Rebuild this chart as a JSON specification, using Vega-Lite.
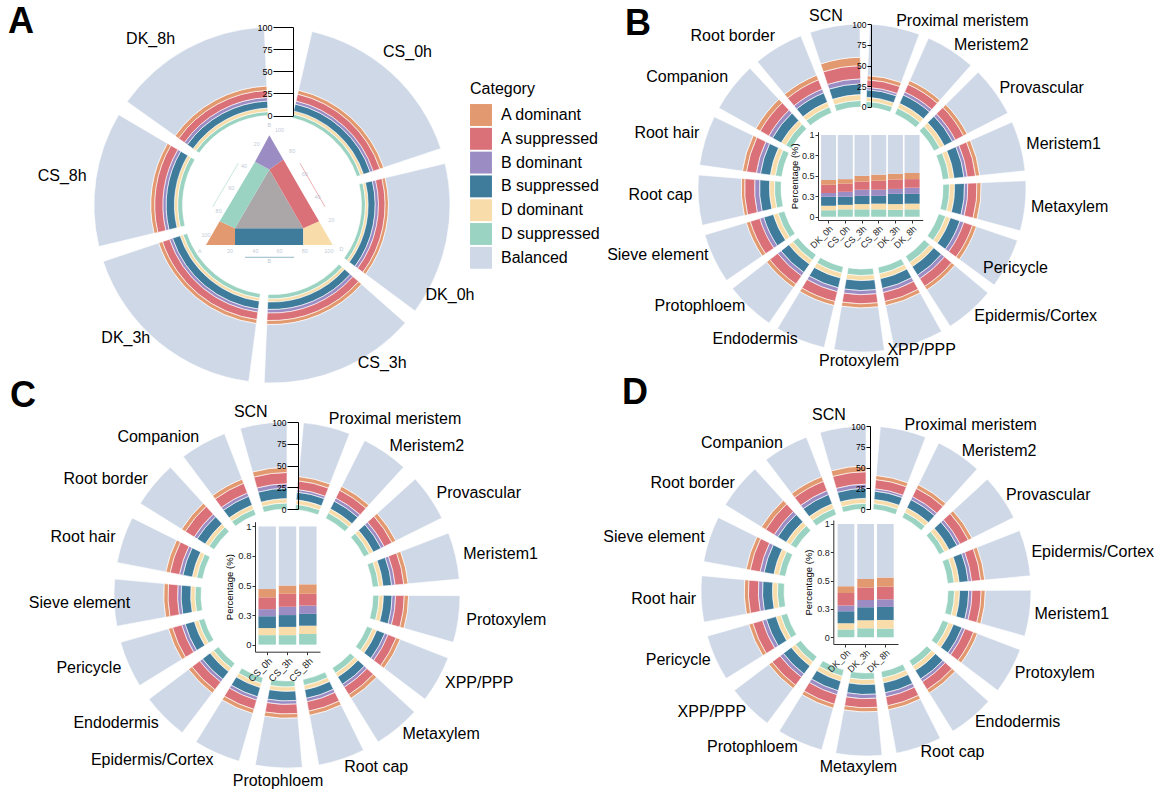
{
"$schema": "https://vega.github.io/schema/vega-lite/v6.json",
"padding": 0,
"background": "white",
"columns": 2,
"spacing": {"row": 0, "column": 4},
"bounds": "flush",
"align": "each",
"config": {
  "font": "Liberation Sans",
  "view": {"stroke": null},
  "axis": {"grid": false, "labelOverlap": false, "zindex": 1},
  "title": {"fontSize": 36, "fontWeight": "bold", "anchor": "start", "frame": "group", "color": "black"}
},
"resolve": {"scale": {"color": "independent", "fill": "independent", "theta": "independent", "radius": "independent"}},
"datasets": {
"ticks": [{"tick":0},{"tick":25},{"tick":50},{"tick":75},{"tick":100}],
"ringA": [
{"c":"CS_0h","w":63.5,"k":"D suppressed","v":4.5},{"c":"CS_0h","w":63.5,"k":"D dominant","v":3.5},{"c":"CS_0h","w":63.5,"k":"B suppressed","v":8},{"c":"CS_0h","w":63.5,"k":"B dominant","v":3.5},{"c":"CS_0h","w":63.5,"k":"A suppressed","v":8},{"c":"CS_0h","w":63.5,"k":"A dominant","v":4.5},{"c":"CS_0h","w":63.5,"k":"Balanced","v":68},
{"c":"DK_0h","w":55,"k":"D suppressed","v":4.5},{"c":"DK_0h","w":55,"k":"D dominant","v":3},{"c":"DK_0h","w":55,"k":"B suppressed","v":8},{"c":"DK_0h","w":55,"k":"B dominant","v":3.7},{"c":"DK_0h","w":55,"k":"A suppressed","v":7.5},{"c":"DK_0h","w":55,"k":"A dominant","v":3.8},{"c":"DK_0h","w":55,"k":"Balanced","v":69.5},
{"c":"CS_3h","w":56,"k":"D suppressed","v":5},{"c":"CS_3h","w":56,"k":"D dominant","v":3.5},{"c":"CS_3h","w":56,"k":"B suppressed","v":8.5},{"c":"CS_3h","w":56,"k":"B dominant","v":4},{"c":"CS_3h","w":56,"k":"A suppressed","v":8.5},{"c":"CS_3h","w":56,"k":"A dominant","v":4.5},{"c":"CS_3h","w":56,"k":"Balanced","v":66},
{"c":"DK_3h","w":69,"k":"D suppressed","v":5},{"c":"DK_3h","w":69,"k":"D dominant","v":3.5},{"c":"DK_3h","w":69,"k":"B suppressed","v":9},{"c":"DK_3h","w":69,"k":"B dominant","v":3.5},{"c":"DK_3h","w":69,"k":"A suppressed","v":8.5},{"c":"DK_3h","w":69,"k":"A dominant","v":4.5},{"c":"DK_3h","w":69,"k":"Balanced","v":66},
{"c":"CS_8h","w":49,"k":"D suppressed","v":5.5},{"c":"CS_8h","w":49,"k":"D dominant","v":3.7},{"c":"CS_8h","w":49,"k":"B suppressed","v":9.4},{"c":"CS_8h","w":49,"k":"B dominant","v":3.7},{"c":"CS_8h","w":49,"k":"A suppressed","v":9.2},{"c":"CS_8h","w":49,"k":"A dominant","v":4.5},{"c":"CS_8h","w":49,"k":"Balanced","v":64},
{"c":"DK_8h","w":57,"k":"D suppressed","v":4.5},{"c":"DK_8h","w":57,"k":"D dominant","v":4},{"c":"DK_8h","w":57,"k":"B suppressed","v":8},{"c":"DK_8h","w":57,"k":"B dominant","v":4},{"c":"DK_8h","w":57,"k":"A suppressed","v":8},{"c":"DK_8h","w":57,"k":"A dominant","v":5},{"c":"DK_8h","w":57,"k":"Balanced","v":66.5}
],
"tern": [
{"g":"A dominant","x":0,"y":0,"y2":0},{"g":"A dominant","x":0.108,"y":0.187,"y2":0},{"g":"A dominant","x":0.229,"y":0.132,"y2":0},
{"g":"B suppressed","x":0.229,"y":0.132,"y2":0},{"g":"B suppressed","x":0.768,"y":0.132,"y2":0},
{"g":"D dominant","x":0.768,"y":0.132,"y2":0},{"g":"D dominant","x":0.892,"y":0.187,"y2":0},{"g":"D dominant","x":1,"y":0,"y2":0},
{"g":"Balanced","x":0.229,"y":0.132,"y2":0.132},{"g":"Balanced","x":0.5,"y":0.597,"y2":0.132},{"g":"Balanced","x":0.768,"y":0.132,"y2":0.132},
{"g":"D suppressed","x":0.108,"y":0.187,"y2":0.187},{"g":"D suppressed","x":0.229,"y":0.391,"y2":0.132},{"g":"D suppressed","x":0.387,"y":0.657,"y2":0.403},{"g":"D suppressed","x":0.5,"y":0.597,"y2":0.597},
{"g":"A suppressed","x":0.5,"y":0.597,"y2":0.597},{"g":"A suppressed","x":0.61,"y":0.675,"y2":0.406},{"g":"A suppressed","x":0.768,"y":0.4,"y2":0.132},{"g":"A suppressed","x":0.892,"y":0.187,"y2":0.187},
{"g":"B dominant","x":0.387,"y":0.657,"y2":0.657},{"g":"B dominant","x":0.5,"y":0.866,"y2":0.597},{"g":"B dominant","x":0.61,"y":0.675,"y2":0.675}
],
"ternArrows": [
{"g":"D suppressed","x":0.255,"y":0.645,"x2":0.053,"y2":0.302},
{"g":"A suppressed","x":0.742,"y":0.645,"x2":0.939,"y2":0.302},
{"g":"B suppressed","x":0.308,"y":-0.097,"x2":0.695,"y2":-0.097}
],
"ternText": [
{"t":"B","x":0.5,"y":0.95},
{"t":"A","x":-0.05,"y":-0.05},
{"t":"D","x":1.07,"y":-0.03},
{"t":"B","x":0.5,"y":-0.13},
{"t":"20","x":0.19,"y":-0.05},{"t":"40","x":0.39,"y":-0.05},{"t":"60","x":0.58,"y":-0.05},{"t":"80","x":0.78,"y":-0.05},{"t":"100","x":0.97,"y":-0.05},
{"t":"20","x":0.99,"y":0.2},{"t":"40","x":0.88,"y":0.38},{"t":"60","x":0.78,"y":0.56},{"t":"80","x":0.68,"y":0.74},{"t":"100","x":0.58,"y":0.91},
{"t":"20","x":0.4,"y":0.8},{"t":"40","x":0.3,"y":0.62},{"t":"60","x":0.2,"y":0.45},{"t":"80","x":0.1,"y":0.27},{"t":"100","x":0.0,"y":0.08}
],
"ringB": [
{"c":"Proximal meristem","k":"D suppressed","v":7},{"c":"Proximal meristem","k":"D dominant","v":5},{"c":"Proximal meristem","k":"B suppressed","v":9},{"c":"Proximal meristem","k":"B dominant","v":3},{"c":"Proximal meristem","k":"A suppressed","v":9},{"c":"Proximal meristem","k":"A dominant","v":5},{"c":"Proximal meristem","k":"Balanced","v":62},
{"c":"Meristem2","k":"D suppressed","v":8},{"c":"Meristem2","k":"D dominant","v":6},{"c":"Meristem2","k":"B suppressed","v":11},{"c":"Meristem2","k":"B dominant","v":4},{"c":"Meristem2","k":"A suppressed","v":10},{"c":"Meristem2","k":"A dominant","v":5},{"c":"Meristem2","k":"Balanced","v":56},
{"c":"Provascular","k":"D suppressed","v":8},{"c":"Provascular","k":"D dominant","v":6},{"c":"Provascular","k":"B suppressed","v":11},{"c":"Provascular","k":"B dominant","v":4},{"c":"Provascular","k":"A suppressed","v":11},{"c":"Provascular","k":"A dominant","v":5},{"c":"Provascular","k":"Balanced","v":55},
{"c":"Meristem1","k":"D suppressed","v":8},{"c":"Meristem1","k":"D dominant","v":6},{"c":"Meristem1","k":"B suppressed","v":12},{"c":"Meristem1","k":"B dominant","v":4},{"c":"Meristem1","k":"A suppressed","v":10},{"c":"Meristem1","k":"A dominant","v":5},{"c":"Meristem1","k":"Balanced","v":55},
{"c":"Metaxylem","k":"D suppressed","v":8},{"c":"Metaxylem","k":"D dominant","v":6},{"c":"Metaxylem","k":"B suppressed","v":12},{"c":"Metaxylem","k":"B dominant","v":4},{"c":"Metaxylem","k":"A suppressed","v":11},{"c":"Metaxylem","k":"A dominant","v":5},{"c":"Metaxylem","k":"Balanced","v":54},
{"c":"Pericycle","k":"D suppressed","v":9},{"c":"Pericycle","k":"D dominant","v":6},{"c":"Pericycle","k":"B suppressed","v":12},{"c":"Pericycle","k":"B dominant","v":5},{"c":"Pericycle","k":"A suppressed","v":11},{"c":"Pericycle","k":"A dominant","v":5},{"c":"Pericycle","k":"Balanced","v":52},
{"c":"Epidermis/Cortex","k":"D suppressed","v":9},{"c":"Epidermis/Cortex","k":"D dominant","v":6},{"c":"Epidermis/Cortex","k":"B suppressed","v":12},{"c":"Epidermis/Cortex","k":"B dominant","v":5},{"c":"Epidermis/Cortex","k":"A suppressed","v":11},{"c":"Epidermis/Cortex","k":"A dominant","v":5},{"c":"Epidermis/Cortex","k":"Balanced","v":52},
{"c":"XPP/PPP","k":"D suppressed","v":8},{"c":"XPP/PPP","k":"D dominant","v":6},{"c":"XPP/PPP","k":"B suppressed","v":12},{"c":"XPP/PPP","k":"B dominant","v":5},{"c":"XPP/PPP","k":"A suppressed","v":11},{"c":"XPP/PPP","k":"A dominant","v":5},{"c":"XPP/PPP","k":"Balanced","v":53},
{"c":"Protoxylem","k":"D suppressed","v":8},{"c":"Protoxylem","k":"D dominant","v":6},{"c":"Protoxylem","k":"B suppressed","v":12},{"c":"Protoxylem","k":"B dominant","v":5},{"c":"Protoxylem","k":"A suppressed","v":11},{"c":"Protoxylem","k":"A dominant","v":5},{"c":"Protoxylem","k":"Balanced","v":53},
{"c":"Endodermis","k":"D suppressed","v":8},{"c":"Endodermis","k":"D dominant","v":6},{"c":"Endodermis","k":"B suppressed","v":12},{"c":"Endodermis","k":"B dominant","v":5},{"c":"Endodermis","k":"A suppressed","v":12},{"c":"Endodermis","k":"A dominant","v":5},{"c":"Endodermis","k":"Balanced","v":52},
{"c":"Protophloem","k":"D suppressed","v":8},{"c":"Protophloem","k":"D dominant","v":6},{"c":"Protophloem","k":"B suppressed","v":12},{"c":"Protophloem","k":"B dominant","v":5},{"c":"Protophloem","k":"A suppressed","v":12},{"c":"Protophloem","k":"A dominant","v":5},{"c":"Protophloem","k":"Balanced","v":52},
{"c":"Sieve element","k":"D suppressed","v":8},{"c":"Sieve element","k":"D dominant","v":6},{"c":"Sieve element","k":"B suppressed","v":12},{"c":"Sieve element","k":"B dominant","v":5},{"c":"Sieve element","k":"A suppressed","v":12},{"c":"Sieve element","k":"A dominant","v":5},{"c":"Sieve element","k":"Balanced","v":52},
{"c":"Root cap","k":"D suppressed","v":8},{"c":"Root cap","k":"D dominant","v":6},{"c":"Root cap","k":"B suppressed","v":12},{"c":"Root cap","k":"B dominant","v":6},{"c":"Root cap","k":"A suppressed","v":12},{"c":"Root cap","k":"A dominant","v":4},{"c":"Root cap","k":"Balanced","v":52},
{"c":"Root hair","k":"D suppressed","v":8},{"c":"Root hair","k":"D dominant","v":6},{"c":"Root hair","k":"B suppressed","v":12},{"c":"Root hair","k":"B dominant","v":5},{"c":"Root hair","k":"A suppressed","v":12},{"c":"Root hair","k":"A dominant","v":5},{"c":"Root hair","k":"Balanced","v":52},
{"c":"Companion","k":"D suppressed","v":8},{"c":"Companion","k":"D dominant","v":6},{"c":"Companion","k":"B suppressed","v":12},{"c":"Companion","k":"B dominant","v":5},{"c":"Companion","k":"A suppressed","v":12},{"c":"Companion","k":"A dominant","v":6},{"c":"Companion","k":"Balanced","v":51},
{"c":"Root border","k":"D suppressed","v":8},{"c":"Root border","k":"D dominant","v":6},{"c":"Root border","k":"B suppressed","v":12},{"c":"Root border","k":"B dominant","v":5},{"c":"Root border","k":"A suppressed","v":12},{"c":"Root border","k":"A dominant","v":6},{"c":"Root border","k":"Balanced","v":51},
{"c":"SCN","k":"D suppressed","v":8},{"c":"SCN","k":"D dominant","v":7},{"c":"SCN","k":"B suppressed","v":13},{"c":"SCN","k":"B dominant","v":6},{"c":"SCN","k":"A suppressed","v":16},{"c":"SCN","k":"A dominant","v":10},{"c":"SCN","k":"Balanced","v":40}
],
"ringC": [
{"c":"Proximal meristem","k":"D suppressed","v":6},{"c":"Proximal meristem","k":"D dominant","v":5},{"c":"Proximal meristem","k":"B suppressed","v":9},{"c":"Proximal meristem","k":"B dominant","v":3},{"c":"Proximal meristem","k":"A suppressed","v":10},{"c":"Proximal meristem","k":"A dominant","v":5},{"c":"Proximal meristem","k":"Balanced","v":62},
{"c":"Meristem2","k":"D suppressed","v":7},{"c":"Meristem2","k":"D dominant","v":5},{"c":"Meristem2","k":"B suppressed","v":10},{"c":"Meristem2","k":"B dominant","v":4},{"c":"Meristem2","k":"A suppressed","v":10},{"c":"Meristem2","k":"A dominant","v":5},{"c":"Meristem2","k":"Balanced","v":59},
{"c":"Provascular","k":"D suppressed","v":7},{"c":"Provascular","k":"D dominant","v":5},{"c":"Provascular","k":"B suppressed","v":10},{"c":"Provascular","k":"B dominant","v":4},{"c":"Provascular","k":"A suppressed","v":10},{"c":"Provascular","k":"A dominant","v":5},{"c":"Provascular","k":"Balanced","v":59},
{"c":"Meristem1","k":"D suppressed","v":7},{"c":"Meristem1","k":"D dominant","v":5},{"c":"Meristem1","k":"B suppressed","v":10},{"c":"Meristem1","k":"B dominant","v":4},{"c":"Meristem1","k":"A suppressed","v":10},{"c":"Meristem1","k":"A dominant","v":5},{"c":"Meristem1","k":"Balanced","v":59},
{"c":"Protoxylem","k":"D suppressed","v":7},{"c":"Protoxylem","k":"D dominant","v":5},{"c":"Protoxylem","k":"B suppressed","v":10},{"c":"Protoxylem","k":"B dominant","v":4},{"c":"Protoxylem","k":"A suppressed","v":10},{"c":"Protoxylem","k":"A dominant","v":5},{"c":"Protoxylem","k":"Balanced","v":59},
{"c":"XPP/PPP","k":"D suppressed","v":7},{"c":"XPP/PPP","k":"D dominant","v":5},{"c":"XPP/PPP","k":"B suppressed","v":10},{"c":"XPP/PPP","k":"B dominant","v":4},{"c":"XPP/PPP","k":"A suppressed","v":10},{"c":"XPP/PPP","k":"A dominant","v":5},{"c":"XPP/PPP","k":"Balanced","v":59},
{"c":"Metaxylem","k":"D suppressed","v":7},{"c":"Metaxylem","k":"D dominant","v":5},{"c":"Metaxylem","k":"B suppressed","v":10},{"c":"Metaxylem","k":"B dominant","v":4},{"c":"Metaxylem","k":"A suppressed","v":10},{"c":"Metaxylem","k":"A dominant","v":5},{"c":"Metaxylem","k":"Balanced","v":59},
{"c":"Root cap","k":"D suppressed","v":7},{"c":"Root cap","k":"D dominant","v":5},{"c":"Root cap","k":"B suppressed","v":10},{"c":"Root cap","k":"B dominant","v":4},{"c":"Root cap","k":"A suppressed","v":11},{"c":"Root cap","k":"A dominant","v":5},{"c":"Root cap","k":"Balanced","v":58},
{"c":"Protophloem","k":"D suppressed","v":7},{"c":"Protophloem","k":"D dominant","v":5},{"c":"Protophloem","k":"B suppressed","v":11},{"c":"Protophloem","k":"B dominant","v":4},{"c":"Protophloem","k":"A suppressed","v":11},{"c":"Protophloem","k":"A dominant","v":5},{"c":"Protophloem","k":"Balanced","v":57},
{"c":"Epidermis/Cortex","k":"D suppressed","v":7},{"c":"Epidermis/Cortex","k":"D dominant","v":5},{"c":"Epidermis/Cortex","k":"B suppressed","v":11},{"c":"Epidermis/Cortex","k":"B dominant","v":4},{"c":"Epidermis/Cortex","k":"A suppressed","v":11},{"c":"Epidermis/Cortex","k":"A dominant","v":5},{"c":"Epidermis/Cortex","k":"Balanced","v":57},
{"c":"Endodermis","k":"D suppressed","v":7},{"c":"Endodermis","k":"D dominant","v":5},{"c":"Endodermis","k":"B suppressed","v":11},{"c":"Endodermis","k":"B dominant","v":4},{"c":"Endodermis","k":"A suppressed","v":11},{"c":"Endodermis","k":"A dominant","v":5},{"c":"Endodermis","k":"Balanced","v":57},
{"c":"Pericycle","k":"D suppressed","v":7},{"c":"Pericycle","k":"D dominant","v":5},{"c":"Pericycle","k":"B suppressed","v":11},{"c":"Pericycle","k":"B dominant","v":4},{"c":"Pericycle","k":"A suppressed","v":11},{"c":"Pericycle","k":"A dominant","v":5},{"c":"Pericycle","k":"Balanced","v":57},
{"c":"Sieve element","k":"D suppressed","v":7},{"c":"Sieve element","k":"D dominant","v":5},{"c":"Sieve element","k":"B suppressed","v":11},{"c":"Sieve element","k":"B dominant","v":4},{"c":"Sieve element","k":"A suppressed","v":11},{"c":"Sieve element","k":"A dominant","v":5},{"c":"Sieve element","k":"Balanced","v":57},
{"c":"Root hair","k":"D suppressed","v":7},{"c":"Root hair","k":"D dominant","v":5},{"c":"Root hair","k":"B suppressed","v":11},{"c":"Root hair","k":"B dominant","v":4},{"c":"Root hair","k":"A suppressed","v":11},{"c":"Root hair","k":"A dominant","v":5},{"c":"Root hair","k":"Balanced","v":57},
{"c":"Root border","k":"D suppressed","v":7},{"c":"Root border","k":"D dominant","v":5},{"c":"Root border","k":"B suppressed","v":11},{"c":"Root border","k":"B dominant","v":4},{"c":"Root border","k":"A suppressed","v":12},{"c":"Root border","k":"A dominant","v":5},{"c":"Root border","k":"Balanced","v":56},
{"c":"Companion","k":"D suppressed","v":7},{"c":"Companion","k":"D dominant","v":5},{"c":"Companion","k":"B suppressed","v":11},{"c":"Companion","k":"B dominant","v":4},{"c":"Companion","k":"A suppressed","v":12},{"c":"Companion","k":"A dominant","v":5},{"c":"Companion","k":"Balanced","v":56},
{"c":"SCN","k":"D suppressed","v":7},{"c":"SCN","k":"D dominant","v":5},{"c":"SCN","k":"B suppressed","v":12},{"c":"SCN","k":"B dominant","v":5},{"c":"SCN","k":"A suppressed","v":13},{"c":"SCN","k":"A dominant","v":6},{"c":"SCN","k":"Balanced","v":52}
],
"ringD": [
{"c":"Proximal meristem","k":"D suppressed","v":7},{"c":"Proximal meristem","k":"D dominant","v":5},{"c":"Proximal meristem","k":"B suppressed","v":10},{"c":"Proximal meristem","k":"B dominant","v":3},{"c":"Proximal meristem","k":"A suppressed","v":11},{"c":"Proximal meristem","k":"A dominant","v":5},{"c":"Proximal meristem","k":"Balanced","v":59},
{"c":"Meristem2","k":"D suppressed","v":7},{"c":"Meristem2","k":"D dominant","v":6},{"c":"Meristem2","k":"B suppressed","v":11},{"c":"Meristem2","k":"B dominant","v":4},{"c":"Meristem2","k":"A suppressed","v":11},{"c":"Meristem2","k":"A dominant","v":5},{"c":"Meristem2","k":"Balanced","v":56},
{"c":"Provascular","k":"D suppressed","v":7},{"c":"Provascular","k":"D dominant","v":6},{"c":"Provascular","k":"B suppressed","v":11},{"c":"Provascular","k":"B dominant","v":4},{"c":"Provascular","k":"A suppressed","v":11},{"c":"Provascular","k":"A dominant","v":5},{"c":"Provascular","k":"Balanced","v":56},
{"c":"Epidermis/Cortex","k":"D suppressed","v":8},{"c":"Epidermis/Cortex","k":"D dominant","v":6},{"c":"Epidermis/Cortex","k":"B suppressed","v":11},{"c":"Epidermis/Cortex","k":"B dominant","v":4},{"c":"Epidermis/Cortex","k":"A suppressed","v":11},{"c":"Epidermis/Cortex","k":"A dominant","v":5},{"c":"Epidermis/Cortex","k":"Balanced","v":55},
{"c":"Meristem1","k":"D suppressed","v":8},{"c":"Meristem1","k":"D dominant","v":6},{"c":"Meristem1","k":"B suppressed","v":11},{"c":"Meristem1","k":"B dominant","v":4},{"c":"Meristem1","k":"A suppressed","v":11},{"c":"Meristem1","k":"A dominant","v":5},{"c":"Meristem1","k":"Balanced","v":55},
{"c":"Protoxylem","k":"D suppressed","v":8},{"c":"Protoxylem","k":"D dominant","v":6},{"c":"Protoxylem","k":"B suppressed","v":11},{"c":"Protoxylem","k":"B dominant","v":4},{"c":"Protoxylem","k":"A suppressed","v":11},{"c":"Protoxylem","k":"A dominant","v":5},{"c":"Protoxylem","k":"Balanced","v":55},
{"c":"Endodermis","k":"D suppressed","v":8},{"c":"Endodermis","k":"D dominant","v":6},{"c":"Endodermis","k":"B suppressed","v":12},{"c":"Endodermis","k":"B dominant","v":4},{"c":"Endodermis","k":"A suppressed","v":11},{"c":"Endodermis","k":"A dominant","v":5},{"c":"Endodermis","k":"Balanced","v":54},
{"c":"Root cap","k":"D suppressed","v":8},{"c":"Root cap","k":"D dominant","v":6},{"c":"Root cap","k":"B suppressed","v":12},{"c":"Root cap","k":"B dominant","v":5},{"c":"Root cap","k":"A suppressed","v":11},{"c":"Root cap","k":"A dominant","v":5},{"c":"Root cap","k":"Balanced","v":53},
{"c":"Metaxylem","k":"D suppressed","v":8},{"c":"Metaxylem","k":"D dominant","v":6},{"c":"Metaxylem","k":"B suppressed","v":12},{"c":"Metaxylem","k":"B dominant","v":5},{"c":"Metaxylem","k":"A suppressed","v":11},{"c":"Metaxylem","k":"A dominant","v":5},{"c":"Metaxylem","k":"Balanced","v":53},
{"c":"Protophloem","k":"D suppressed","v":8},{"c":"Protophloem","k":"D dominant","v":6},{"c":"Protophloem","k":"B suppressed","v":12},{"c":"Protophloem","k":"B dominant","v":5},{"c":"Protophloem","k":"A suppressed","v":12},{"c":"Protophloem","k":"A dominant","v":5},{"c":"Protophloem","k":"Balanced","v":52},
{"c":"XPP/PPP","k":"D suppressed","v":8},{"c":"XPP/PPP","k":"D dominant","v":6},{"c":"XPP/PPP","k":"B suppressed","v":12},{"c":"XPP/PPP","k":"B dominant","v":5},{"c":"XPP/PPP","k":"A suppressed","v":12},{"c":"XPP/PPP","k":"A dominant","v":5},{"c":"XPP/PPP","k":"Balanced","v":52},
{"c":"Pericycle","k":"D suppressed","v":8},{"c":"Pericycle","k":"D dominant","v":6},{"c":"Pericycle","k":"B suppressed","v":12},{"c":"Pericycle","k":"B dominant","v":5},{"c":"Pericycle","k":"A suppressed","v":12},{"c":"Pericycle","k":"A dominant","v":5},{"c":"Pericycle","k":"Balanced","v":52},
{"c":"Root hair","k":"D suppressed","v":8},{"c":"Root hair","k":"D dominant","v":6},{"c":"Root hair","k":"B suppressed","v":12},{"c":"Root hair","k":"B dominant","v":5},{"c":"Root hair","k":"A suppressed","v":12},{"c":"Root hair","k":"A dominant","v":5},{"c":"Root hair","k":"Balanced","v":52},
{"c":"Sieve element","k":"D suppressed","v":8},{"c":"Sieve element","k":"D dominant","v":6},{"c":"Sieve element","k":"B suppressed","v":12},{"c":"Sieve element","k":"B dominant","v":5},{"c":"Sieve element","k":"A suppressed","v":12},{"c":"Sieve element","k":"A dominant","v":5},{"c":"Sieve element","k":"Balanced","v":52},
{"c":"Root border","k":"D suppressed","v":8},{"c":"Root border","k":"D dominant","v":6},{"c":"Root border","k":"B suppressed","v":12},{"c":"Root border","k":"B dominant","v":5},{"c":"Root border","k":"A suppressed","v":12},{"c":"Root border","k":"A dominant","v":6},{"c":"Root border","k":"Balanced","v":51},
{"c":"Companion","k":"D suppressed","v":8},{"c":"Companion","k":"D dominant","v":6},{"c":"Companion","k":"B suppressed","v":12},{"c":"Companion","k":"B dominant","v":5},{"c":"Companion","k":"A suppressed","v":12},{"c":"Companion","k":"A dominant","v":6},{"c":"Companion","k":"Balanced","v":51},
{"c":"SCN","k":"D suppressed","v":7},{"c":"SCN","k":"D dominant","v":6},{"c":"SCN","k":"B suppressed","v":12},{"c":"SCN","k":"B dominant","v":5},{"c":"SCN","k":"A suppressed","v":15},{"c":"SCN","k":"A dominant","v":7},{"c":"SCN","k":"Balanced","v":48}
],
"barB": [
{"t":"DK_0h","k":"D suppressed","v":0.08},{"t":"DK_0h","k":"D dominant","v":0.055},{"t":"DK_0h","k":"B suppressed","v":0.11},{"t":"DK_0h","k":"B dominant","v":0.045},{"t":"DK_0h","k":"A suppressed","v":0.1},{"t":"DK_0h","k":"A dominant","v":0.06},{"t":"DK_0h","k":"Balanced","v":0.55},
{"t":"CS_0h","k":"D suppressed","v":0.09},{"t":"CS_0h","k":"D dominant","v":0.055},{"t":"CS_0h","k":"B suppressed","v":0.1},{"t":"CS_0h","k":"B dominant","v":0.06},{"t":"CS_0h","k":"A suppressed","v":0.1},{"t":"CS_0h","k":"A dominant","v":0.055},{"t":"CS_0h","k":"Balanced","v":0.54},
{"t":"CS_3h","k":"D suppressed","v":0.09},{"t":"CS_3h","k":"D dominant","v":0.065},{"t":"CS_3h","k":"B suppressed","v":0.1},{"t":"CS_3h","k":"B dominant","v":0.075},{"t":"CS_3h","k":"A suppressed","v":0.1},{"t":"CS_3h","k":"A dominant","v":0.07},{"t":"CS_3h","k":"Balanced","v":0.5},
{"t":"CS_8h","k":"D suppressed","v":0.09},{"t":"CS_8h","k":"D dominant","v":0.07},{"t":"CS_8h","k":"B suppressed","v":0.095},{"t":"CS_8h","k":"B dominant","v":0.075},{"t":"CS_8h","k":"A suppressed","v":0.11},{"t":"CS_8h","k":"A dominant","v":0.075},{"t":"CS_8h","k":"Balanced","v":0.485},
{"t":"DK_3h","k":"D suppressed","v":0.085},{"t":"DK_3h","k":"D dominant","v":0.07},{"t":"DK_3h","k":"B suppressed","v":0.125},{"t":"DK_3h","k":"B dominant","v":0.06},{"t":"DK_3h","k":"A suppressed","v":0.115},{"t":"DK_3h","k":"A dominant","v":0.07},{"t":"DK_3h","k":"Balanced","v":0.475},
{"t":"DK_8h","k":"D suppressed","v":0.09},{"t":"DK_8h","k":"D dominant","v":0.07},{"t":"DK_8h","k":"B suppressed","v":0.12},{"t":"DK_8h","k":"B dominant","v":0.075},{"t":"DK_8h","k":"A suppressed","v":0.105},{"t":"DK_8h","k":"A dominant","v":0.075},{"t":"DK_8h","k":"Balanced","v":0.465}
],
"barC": [
{"t":"CS_0h","k":"D suppressed","v":0.08},{"t":"CS_0h","k":"D dominant","v":0.06},{"t":"CS_0h","k":"B suppressed","v":0.1},{"t":"CS_0h","k":"B dominant","v":0.06},{"t":"CS_0h","k":"A suppressed","v":0.1},{"t":"CS_0h","k":"A dominant","v":0.07},{"t":"CS_0h","k":"Balanced","v":0.53},
{"t":"CS_3h","k":"D suppressed","v":0.08},{"t":"CS_3h","k":"D dominant","v":0.07},{"t":"CS_3h","k":"B suppressed","v":0.1},{"t":"CS_3h","k":"B dominant","v":0.07},{"t":"CS_3h","k":"A suppressed","v":0.11},{"t":"CS_3h","k":"A dominant","v":0.07},{"t":"CS_3h","k":"Balanced","v":0.5},
{"t":"CS_8h","k":"D suppressed","v":0.09},{"t":"CS_8h","k":"D dominant","v":0.07},{"t":"CS_8h","k":"B suppressed","v":0.1},{"t":"CS_8h","k":"B dominant","v":0.07},{"t":"CS_8h","k":"A suppressed","v":0.1},{"t":"CS_8h","k":"A dominant","v":0.08},{"t":"CS_8h","k":"Balanced","v":0.49}
],
"barD": [
{"t":"DK_0h","k":"D suppressed","v":0.07},{"t":"DK_0h","k":"D dominant","v":0.055},{"t":"DK_0h","k":"B suppressed","v":0.105},{"t":"DK_0h","k":"B dominant","v":0.05},{"t":"DK_0h","k":"A suppressed","v":0.11},{"t":"DK_0h","k":"A dominant","v":0.06},{"t":"DK_0h","k":"Balanced","v":0.55},
{"t":"DK_3h","k":"D suppressed","v":0.08},{"t":"DK_3h","k":"D dominant","v":0.07},{"t":"DK_3h","k":"B suppressed","v":0.115},{"t":"DK_3h","k":"B dominant","v":0.065},{"t":"DK_3h","k":"A suppressed","v":0.11},{"t":"DK_3h","k":"A dominant","v":0.075},{"t":"DK_3h","k":"Balanced","v":0.485},
{"t":"DK_8h","k":"D suppressed","v":0.077},{"t":"DK_8h","k":"D dominant","v":0.076},{"t":"DK_8h","k":"B suppressed","v":0.115},{"t":"DK_8h","k":"B dominant","v":0.067},{"t":"DK_8h","k":"A suppressed","v":0.112},{"t":"DK_8h","k":"A dominant","v":0.08},{"t":"DK_8h","k":"Balanced","v":0.473}
]
},
"concat": [
{
"width": 544, "height": 410,
"title": {"text": "A", "offset": -41, "dx": 8},
"resolve": {"scale": {"y": "independent"}},
"layer": [
{
"data": {"name": "ringA"},
"transform": [
 {"stack": "w", "groupby": ["k"], "as": ["t0", "t1"]},
 {"stack": "v", "groupby": ["c"], "as": ["r0", "r1"]}
],
"mark": {"type": "arc", "stroke": "white", "strokeWidth": 0.6, "thetaOffset": 0.0436, "theta2Offset": -0.0436},
"encoding": {
 "theta": {"field": "t0", "type": "quantitative", "stack": null, "scale": {"domain": [0, 349.5], "range": [0.1833, 6.2832], "nice": false, "zero": false}},
 "theta2": {"field": "t1"},
 "radius": {"field": "r0", "type": "quantitative", "stack": null, "scale": {"type": "linear", "domain": [0, 100], "range": [89.5, 178], "nice": false, "zero": false}},
 "radius2": {"field": "r1"},
 "color": {"field": "k", "type": "nominal",
   "scale": {"domain": ["A dominant","A suppressed","B dominant","B suppressed","D dominant","D suppressed","Balanced"], "range": ["#E2996F","#DB7178","#9B8DC4","#3F7C9C","#F8DDAA","#9AD3C2","#CFD8E7"]},
   "legend": {"title": "Category", "orient": "none", "legendX": 470, "legendY": 81, "titleFontSize": 16, "titleFontWeight": "normal", "titleColor": "black", "labelFontSize": 16, "labelColor": "black", "symbolType": "square", "symbolSize": 480, "symbolStrokeWidth": 0, "symbolOpacity": 1, "rowPadding": 1.8, "labelOffset": 9, "titlePadding": 7}}
}
},
{
"data": {"name": "ringA"},
"transform": [
 {"filter": {"field": "k", "equal": "Balanced"}},
 {"stack": "w", "groupby": ["k"], "as": ["t0", "t1"]},
 {"fold": ["t0", "t1"], "as": ["ends", "tv"]},
 {"aggregate": [{"op": "mean", "field": "tv", "as": "tm"}], "groupby": ["c"]},
 {"filter": {"field": "c", "equal": "CS_0h"}}
],
"mark": {"type": "text", "radius": 200, "fontSize": 16, "baseline": "middle", "align": "center", "dx": 1, "dy": -5},
"encoding": {"theta": {"field": "tm", "type": "quantitative"}, "text": {"field": "c"}}
},
{
"data": {"name": "ringA"},
"transform": [
 {"filter": {"field": "k", "equal": "Balanced"}},
 {"stack": "w", "groupby": ["k"], "as": ["t0", "t1"]},
 {"fold": ["t0", "t1"], "as": ["ends", "tv"]},
 {"aggregate": [{"op": "mean", "field": "tv", "as": "tm"}], "groupby": ["c"]},
 {"filter": {"field": "c", "equal": "DK_0h"}}
],
"mark": {"type": "text", "radius": 200, "fontSize": 16, "baseline": "middle", "align": "center", "dx": -18, "dy": 50},
"encoding": {"theta": {"field": "tm", "type": "quantitative"}, "text": {"field": "c"}}
},
{
"data": {"name": "ringA"},
"transform": [
 {"filter": {"field": "k", "equal": "Balanced"}},
 {"stack": "w", "groupby": ["k"], "as": ["t0", "t1"]},
 {"fold": ["t0", "t1"], "as": ["ends", "tv"]},
 {"aggregate": [{"op": "mean", "field": "tv", "as": "tm"}], "groupby": ["c"]},
 {"filter": {"field": "c", "equal": "CS_3h"}}
],
"mark": {"type": "text", "radius": 200, "fontSize": 16, "baseline": "middle", "align": "center", "dx": 32, "dy": -26},
"encoding": {"theta": {"field": "tm", "type": "quantitative"}, "text": {"field": "c"}}
},
{
"data": {"name": "ringA"},
"transform": [
 {"filter": {"field": "k", "equal": "Balanced"}},
 {"stack": "w", "groupby": ["k"], "as": ["t0", "t1"]},
 {"fold": ["t0", "t1"], "as": ["ends", "tv"]},
 {"aggregate": [{"op": "mean", "field": "tv", "as": "tm"}], "groupby": ["c"]},
 {"filter": {"field": "c", "equal": "DK_3h"}}
],
"mark": {"type": "text", "radius": 200, "fontSize": 16, "baseline": "middle", "align": "center", "dx": -19, "dy": -21},
"encoding": {"theta": {"field": "tm", "type": "quantitative"}, "text": {"field": "c"}}
},
{
"data": {"name": "ringA"},
"transform": [
 {"filter": {"field": "k", "equal": "Balanced"}},
 {"stack": "w", "groupby": ["k"], "as": ["t0", "t1"]},
 {"fold": ["t0", "t1"], "as": ["ends", "tv"]},
 {"aggregate": [{"op": "mean", "field": "tv", "as": "tm"}], "groupby": ["c"]},
 {"filter": {"field": "c", "equal": "CS_8h"}}
],
"mark": {"type": "text", "radius": 200, "fontSize": 16, "baseline": "middle", "align": "center", "dx": -12, "dy": 1},
"encoding": {"theta": {"field": "tm", "type": "quantitative"}, "text": {"field": "c"}}
},
{
"data": {"name": "ringA"},
"transform": [
 {"filter": {"field": "k", "equal": "Balanced"}},
 {"stack": "w", "groupby": ["k"], "as": ["t0", "t1"]},
 {"fold": ["t0", "t1"], "as": ["ends", "tv"]},
 {"aggregate": [{"op": "mean", "field": "tv", "as": "tm"}], "groupby": ["c"]},
 {"filter": {"field": "c", "equal": "DK_8h"}}
],
"mark": {"type": "text", "radius": 200, "fontSize": 16, "baseline": "middle", "align": "center", "dx": -26, "dy": 10},
"encoding": {"theta": {"field": "tm", "type": "quantitative"}, "text": {"field": "c"}}
},
{
"data": {"name": "ticks"},
"mark": {"type": "point", "opacity": 0},
"encoding": {
 "y": {"field": "tick", "type": "quantitative", "scale": {"domain": [0, 100], "range": [115.5, 27], "nice": false, "zero": false},
   "axis": {"orient": "left", "offset": -293, "zindex": 2, "values": [0, 25, 50, 75, 100], "title": null, "tickSize": 20, "labelPadding": 1, "labelFontSize": 9, "labelColor": "black", "domainColor": "black", "tickColor": "black", "domainWidth": 1, "tickWidth": 1}}
}
},
{
"data": {"name": "tern"},
"mark": {"type": "area", "interpolate": "linear"},
"encoding": {
 "x": {"field": "x", "type": "quantitative", "scale": {"domain": [0, 1], "range": [206, 332.7], "nice": false, "zero": false}, "axis": null},
 "y": {"field": "y", "type": "quantitative", "stack": null, "scale": {"domain": [0, 0.866], "range": [245, 135.3], "nice": false, "zero": false}, "axis": null},
 "y2": {"field": "y2"},
 "fill": {"field": "g", "type": "nominal", "scale": {"domain": ["A dominant","A suppressed","B dominant","B suppressed","D dominant","D suppressed","Balanced"], "range": ["#E2996F","#DB7178","#9B8DC4","#3F7C9C","#F8DDAA","#9AD3C2","#ABA6A8"]}, "legend": null}
}
},
{
"data": {"name": "ternArrows"},
"mark": {"type": "rule", "strokeWidth": 1, "opacity": 0.55},
"encoding": {
 "x": {"field": "x", "type": "quantitative", "scale": {"domain": [0, 1], "range": [206, 332.7], "nice": false, "zero": false}, "axis": null},
 "y": {"field": "y", "type": "quantitative", "scale": {"domain": [0, 0.866], "range": [245, 135.3], "nice": false, "zero": false}, "axis": null},
 "x2": {"field": "x2"},
 "y2": {"field": "y2"},
 "stroke": {"field": "g", "type": "nominal", "scale": {"domain": ["A dominant","A suppressed","B dominant","B suppressed","D dominant","D suppressed"], "range": ["#E2996F","#DB7178","#9B8DC4","#3F7C9C","#F8DDAA","#9AD3C2"]}, "legend": null}
}
},
{
"data": {"name": "ternText"},
"mark": {"type": "text", "fontSize": 5.5, "opacity": 0.6, "color": "#9aa9bd"},
"encoding": {
 "x": {"field": "x", "type": "quantitative", "scale": {"domain": [0, 1], "range": [206, 332.7], "nice": false, "zero": false}, "axis": null},
 "y": {"field": "y", "type": "quantitative", "scale": {"domain": [0, 0.866], "range": [245, 135.3], "nice": false, "zero": false}, "axis": null},
 "text": {"field": "t"}
}
}
]
},
{
"width": 568, "height": 376,
"title": {"text": "B", "offset": -43, "dx": 47},
"resolve": {"scale": {"y": "independent"}},
"layer": [
{
"data": {"name": "ringB"},
"transform": [{"stack": "v", "groupby": ["c"], "as": ["r0", "r1"]}],
"mark": {"type": "arc", "stroke": "white", "strokeWidth": 0.6},
"encoding": {
 "theta": {"field": "c", "type": "nominal", "scale": {"type": "band", "domain": ["Proximal meristem","Meristem2","Provascular","Meristem1","Metaxylem","Pericycle","Epidermis/Cortex","XPP/PPP","Protoxylem","Endodermis","Protophloem","Sieve element","Root cap","Root hair","Companion","Root border","SCN"], "range": [0.01745, 6.3006], "paddingInner": 0.165, "paddingOuter": 0.0825, "round": false}},
 "radius": {"field": "r0", "type": "quantitative", "stack": null, "scale": {"type": "linear", "domain": [0, 100], "range": [81, 164], "nice": false, "zero": false}},
 "radius2": {"field": "r1"},
 "color": {"field": "k", "type": "nominal", "scale": {"domain": ["A dominant","A suppressed","B dominant","B suppressed","D dominant","D suppressed","Balanced"], "range": ["#E2996F","#DB7178","#9B8DC4","#3F7C9C","#F8DDAA","#9AD3C2","#CFD8E7"]}, "legend": null}
}
},
{
"data": {"name": "ticks"},
"mark": {"type": "point", "opacity": 0},
"encoding": {
 "y": {"field": "tick", "type": "quantitative", "scale": {"domain": [0, 100], "range": [106.7, 24.3], "nice": false, "zero": false},
   "axis": {"orient": "left", "offset": -293, "zindex": 2, "values": [0, 25, 50, 75, 100], "title": null, "tickSize": 4, "labelPadding": 1, "labelFontSize": 8.5, "labelColor": "black", "domainColor": "black", "tickColor": "black", "domainWidth": 1, "tickWidth": 1}}
}
},
{
"data": {"name": "barB"},
"transform": [{"stack": "v", "groupby": ["t"], "as": ["y0", "y1"]}],
"mark": {"type": "bar"},
"encoding": {
 "x": {"field": "t", "type": "nominal", "scale": {"domain": ["DK_0h","CS_0h","CS_3h","CS_8h","DK_3h","DK_8h"], "range": [240, 344.7], "paddingInner": 0.1, "paddingOuter": 0.185},
   "axis": {"orient": "bottom", "offset": -156, "zindex": 2, "title": null, "labelAngle": -45, "labelFontSize": 9, "labelColor": "#222", "tickSize": 3, "domainColor": "#333", "tickColor": "#333", "labelPadding": 1}},
 "y": {"field": "y0", "type": "quantitative", "stack": null, "scale": {"domain": [-0.04, 1.04], "range": [220, 131.7], "nice": false, "zero": false},
   "axis": {"orient": "left", "offset": -240, "zindex": 2, "title": "Percentage (%)", "values": [0, 0.25, 0.5, 0.75, 1], "format": "~g", "labelFontSize": 9, "labelColor": "#222", "titleFontSize": 9.5, "titleFontWeight": "normal", "titleColor": "black", "tickSize": 3, "labelPadding": 1, "titlePadding": 2, "domainColor": "#333", "tickColor": "#333"}},
 "y2": {"field": "y1"},
 "color": {"field": "k", "type": "nominal", "legend": null}
}
},
{
"data": {"name": "ringB"},
"transform": [{"filter": {"field": "k", "equal": "Balanced"}}, {"filter": {"field": "c", "oneOf": ["Proximal meristem","Meristem2","Provascular","Meristem1","Metaxylem","Epidermis/Cortex"]}}],
"mark": {"type": "text", "radius": 170, "fontSize": 16, "align": "left", "baseline": "middle"},
"encoding": {"theta": {"field": "c", "type": "nominal", "scale": {"type": "band"}}, "text": {"field": "c"}}
},
{
"data": {"name": "ringB"},
"transform": [{"filter": {"field": "k", "equal": "Balanced"}}, {"filter": {"field": "c", "oneOf": ["Endodermis","Protophloem","Sieve element","Root cap","Root hair","Companion","Root border"]}}],
"mark": {"type": "text", "radius": 170, "fontSize": 16, "align": "right", "baseline": "middle", "dy": -6},
"encoding": {"theta": {"field": "c", "type": "nominal", "scale": {"type": "band"}}, "text": {"field": "c"}}
},
{
"data": {"name": "ringB"},
"transform": [{"filter": {"field": "k", "equal": "Balanced"}}, {"filter": {"field": "c", "oneOf": ["Protoxylem","Pericycle","XPP/PPP"]}}],
"mark": {"type": "text", "radius": 173, "fontSize": 16, "align": "center", "baseline": "middle"},
"encoding": {"theta": {"field": "c", "type": "nominal", "scale": {"type": "band"}}, "text": {"field": "c"}}
},
{
"data": {"name": "ringB"},
"transform": [{"filter": {"field": "k", "equal": "Balanced"}}, {"filter": {"field": "c", "equal": "SCN"}}],
"mark": {"type": "text", "radius": 174, "fontSize": 16, "align": "center", "baseline": "middle", "dx": -7},
"encoding": {"theta": {"field": "c", "type": "nominal", "scale": {"type": "band"}}, "text": {"field": "c"}}
}
]
},
{
"width": 574, "height": 370,
"title": {"text": "C", "offset": -11, "dx": 10},
"resolve": {"scale": {"y": "independent"}},
"layer": [
{
"data": {"name": "ringC"},
"transform": [{"stack": "v", "groupby": ["c"], "as": ["r0", "r1"]}],
"mark": {"type": "arc", "stroke": "white", "strokeWidth": 0.6},
"encoding": {
 "theta": {"field": "c", "type": "nominal", "scale": {"type": "band", "domain": ["Proximal meristem","Meristem2","Provascular","Meristem1","Protoxylem","XPP/PPP","Metaxylem","Root cap","Protophloem","Epidermis/Cortex","Endodermis","Pericycle","Sieve element","Root hair","Root border","Companion","SCN"], "range": [0.048, 6.3312], "paddingInner": 0.26, "paddingOuter": 0.13, "round": false}},
 "radius": {"field": "r0", "type": "quantitative", "stack": null, "scale": {"type": "linear", "domain": [0, 100], "range": [86, 173], "nice": false, "zero": false}},
 "radius2": {"field": "r1"},
 "color": {"field": "k", "type": "nominal", "scale": {"domain": ["A dominant","A suppressed","B dominant","B suppressed","D dominant","D suppressed","Balanced"], "range": ["#E2996F","#DB7178","#9B8DC4","#3F7C9C","#F8DDAA","#9AD3C2","#CFD8E7"]}, "legend": null}
}
},
{
"data": {"name": "ticks"},
"mark": {"type": "point", "opacity": 0},
"encoding": {
 "y": {"field": "tick", "type": "quantitative", "scale": {"domain": [0, 100], "range": [99, 12], "nice": false, "zero": false},
   "axis": {"orient": "left", "offset": -298, "zindex": 2, "values": [0, 25, 50, 75, 100], "title": null, "tickSize": 11, "labelPadding": 1, "labelFontSize": 8.5, "labelColor": "black", "domainColor": "black", "tickColor": "black", "domainWidth": 1, "tickWidth": 1}}
}
},
{
"data": {"name": "barC"},
"transform": [{"stack": "v", "groupby": ["t"], "as": ["y0", "y1"]}],
"mark": {"type": "bar"},
"encoding": {
 "x": {"field": "t", "type": "nominal", "scale": {"domain": ["CS_0h","CS_3h","CS_8h"], "range": [255, 320], "paddingInner": 0.14, "paddingOuter": 0.17},
   "axis": {"orient": "bottom", "offset": -128.3, "zindex": 2, "title": null, "labelAngle": -45, "labelFontSize": 9.5, "labelColor": "#222", "tickSize": 3, "domainColor": "#333", "tickColor": "#333", "labelPadding": 1}},
 "y": {"field": "y0", "type": "quantitative", "stack": null, "scale": {"domain": [-0.06, 1.04], "range": [241.7, 111.7], "nice": false, "zero": false},
   "axis": {"orient": "left", "offset": -255, "zindex": 2, "title": "Percentage (%)", "values": [0, 0.25, 0.5, 0.75, 1], "format": "~g", "labelFontSize": 9.5, "labelColor": "#222", "titleFontSize": 9.5, "titleFontWeight": "normal", "titleColor": "black", "tickSize": 3, "labelPadding": 1, "titlePadding": 3, "domainColor": "#333", "tickColor": "#333"}},
 "y2": {"field": "y1"},
 "color": {"field": "k", "type": "nominal", "legend": null}
}
},
{
"data": {"name": "ringC"},
"transform": [{"filter": {"field": "k", "equal": "Balanced"}}, {"filter": {"field": "c", "oneOf": ["Proximal meristem","Meristem2","Provascular","Meristem1","Protoxylem","XPP/PPP","Metaxylem","Root cap"]}}],
"mark": {"type": "text", "radius": 181, "fontSize": 16, "align": "left", "baseline": "middle"},
"encoding": {"theta": {"field": "c", "type": "nominal", "scale": {"type": "band"}}, "text": {"field": "c"}}
},
{
"data": {"name": "ringC"},
"transform": [{"filter": {"field": "k", "equal": "Balanced"}}, {"filter": {"field": "c", "oneOf": ["Epidermis/Cortex","Endodermis","Pericycle","Root hair","Root border","Companion"]}}],
"mark": {"type": "text", "radius": 181, "fontSize": 16, "align": "right", "baseline": "middle"},
"encoding": {"theta": {"field": "c", "type": "nominal", "scale": {"type": "band"}}, "text": {"field": "c"}}
},
{
"data": {"name": "ringC"},
"transform": [{"filter": {"field": "k", "equal": "Balanced"}}, {"filter": {"field": "c", "equal": "Sieve element"}}],
"mark": {"type": "text", "radius": 181, "fontSize": 16, "align": "right", "baseline": "middle", "dx": 24},
"encoding": {"theta": {"field": "c", "type": "nominal", "scale": {"type": "band"}}, "text": {"field": "c"}}
},
{
"data": {"name": "ringC"},
"transform": [{"filter": {"field": "k", "equal": "Balanced"}}, {"filter": {"field": "c", "equal": "Protophloem"}}],
"mark": {"type": "text", "radius": 186, "fontSize": 16, "align": "center", "baseline": "middle"},
"encoding": {"theta": {"field": "c", "type": "nominal", "scale": {"type": "band"}}, "text": {"field": "c"}}
},
{
"data": {"name": "ringC"},
"transform": [{"filter": {"field": "k", "equal": "Balanced"}}, {"filter": {"field": "c", "equal": "SCN"}}],
"mark": {"type": "text", "radius": 185, "fontSize": 16, "align": "center", "baseline": "middle", "dx": -11},
"encoding": {"theta": {"field": "c", "type": "nominal", "scale": {"type": "band"}}, "text": {"field": "c"}}
}
]
},
{
"width": 576, "height": 362,
"title": {"text": "D", "offset": -5, "dx": 44},
"resolve": {"scale": {"y": "independent"}},
"layer": [
{
"data": {"name": "ringD"},
"transform": [{"stack": "v", "groupby": ["c"], "as": ["r0", "r1"]}],
"mark": {"type": "arc", "stroke": "white", "strokeWidth": 0.6},
"encoding": {
 "theta": {"field": "c", "type": "nominal", "scale": {"type": "band", "domain": ["Proximal meristem","Meristem2","Provascular","Epidermis/Cortex","Meristem1","Protoxylem","Endodermis","Root cap","Metaxylem","Protophloem","XPP/PPP","Pericycle","Root hair","Sieve element","Root border","Companion","SCN"], "range": [0.0436, 6.3268], "paddingInner": 0.236, "paddingOuter": 0.118, "round": false}},
 "radius": {"field": "r0", "type": "quantitative", "stack": null, "scale": {"type": "linear", "domain": [0, 100], "range": [82, 165], "nice": false, "zero": false}},
 "radius2": {"field": "r1"},
 "color": {"field": "k", "type": "nominal", "scale": {"domain": ["A dominant","A suppressed","B dominant","B suppressed","D dominant","D suppressed","Balanced"], "range": ["#E2996F","#DB7178","#9B8DC4","#3F7C9C","#F8DDAA","#9AD3C2","#CFD8E7"]}, "legend": null}
}
},
{
"data": {"name": "ticks"},
"mark": {"type": "point", "opacity": 0},
"encoding": {
 "y": {"field": "tick", "type": "quantitative", "scale": {"domain": [0, 100], "range": [99, 16], "nice": false, "zero": false},
   "axis": {"orient": "left", "offset": -292, "zindex": 2, "values": [0, 25, 50, 75, 100], "title": null, "tickSize": 4, "labelPadding": 1, "labelFontSize": 8.5, "labelColor": "black", "domainColor": "black", "tickColor": "black", "domainWidth": 1, "tickWidth": 1}}
}
},
{
"data": {"name": "barD"},
"transform": [{"stack": "v", "groupby": ["t"], "as": ["y0", "y1"]}],
"mark": {"type": "bar"},
"encoding": {
 "x": {"field": "t", "type": "nominal", "scale": {"domain": ["DK_0h","DK_3h","DK_8h"], "range": [255.3, 320], "paddingInner": 0.15, "paddingOuter": 0.22},
   "axis": {"orient": "bottom", "offset": -128, "zindex": 2, "title": null, "labelAngle": -45, "labelFontSize": 9, "labelColor": "#222", "tickSize": 3, "domainColor": "#333", "tickColor": "#333", "labelPadding": 1}},
 "y": {"field": "y0", "type": "quantitative", "stack": null, "scale": {"domain": [-0.059, 1.035], "range": [234, 110], "nice": false, "zero": false},
   "axis": {"orient": "left", "offset": -255.3, "zindex": 2, "title": "Percentage (%)", "values": [0, 0.25, 0.5, 0.75, 1], "format": "~g", "labelFontSize": 9, "labelColor": "#222", "titleFontSize": 9.5, "titleFontWeight": "normal", "titleColor": "black", "tickSize": 3, "labelPadding": 1, "titlePadding": 3, "domainColor": "#333", "tickColor": "#333"}},
 "y2": {"field": "y1"},
 "color": {"field": "k", "type": "nominal", "legend": null}
}
},
{
"data": {"name": "ringD"},
"transform": [{"filter": {"field": "k", "equal": "Balanced"}}, {"filter": {"field": "c", "oneOf": ["Proximal meristem","Meristem2","Provascular","Epidermis/Cortex","Meristem1","Protoxylem","Endodermis","Root cap"]}}],
"mark": {"type": "text", "radius": 170, "fontSize": 16, "align": "left", "baseline": "middle"},
"encoding": {"theta": {"field": "c", "type": "nominal", "scale": {"type": "band"}}, "text": {"field": "c"}}
},
{
"data": {"name": "ringD"},
"transform": [{"filter": {"field": "k", "equal": "Balanced"}}, {"filter": {"field": "c", "oneOf": ["Protophloem","XPP/PPP","Pericycle","Root hair","Sieve element","Root border","Companion"]}}],
"mark": {"type": "text", "radius": 170, "fontSize": 16, "align": "right", "baseline": "middle"},
"encoding": {"theta": {"field": "c", "type": "nominal", "scale": {"type": "band"}}, "text": {"field": "c"}}
},
{
"data": {"name": "ringD"},
"transform": [{"filter": {"field": "k", "equal": "Balanced"}}, {"filter": {"field": "c", "equal": "Metaxylem"}}],
"mark": {"type": "text", "radius": 176, "fontSize": 16, "align": "center", "baseline": "middle"},
"encoding": {"theta": {"field": "c", "type": "nominal", "scale": {"type": "band"}}, "text": {"field": "c"}}
},
{
"data": {"name": "ringD"},
"transform": [{"filter": {"field": "k", "equal": "Balanced"}}, {"filter": {"field": "c", "equal": "SCN"}}],
"mark": {"type": "text", "radius": 178, "fontSize": 16, "align": "center", "baseline": "middle", "dx": -12},
"encoding": {"theta": {"field": "c", "type": "nominal", "scale": {"type": "band"}}, "text": {"field": "c"}}
}
]
}
]
}
